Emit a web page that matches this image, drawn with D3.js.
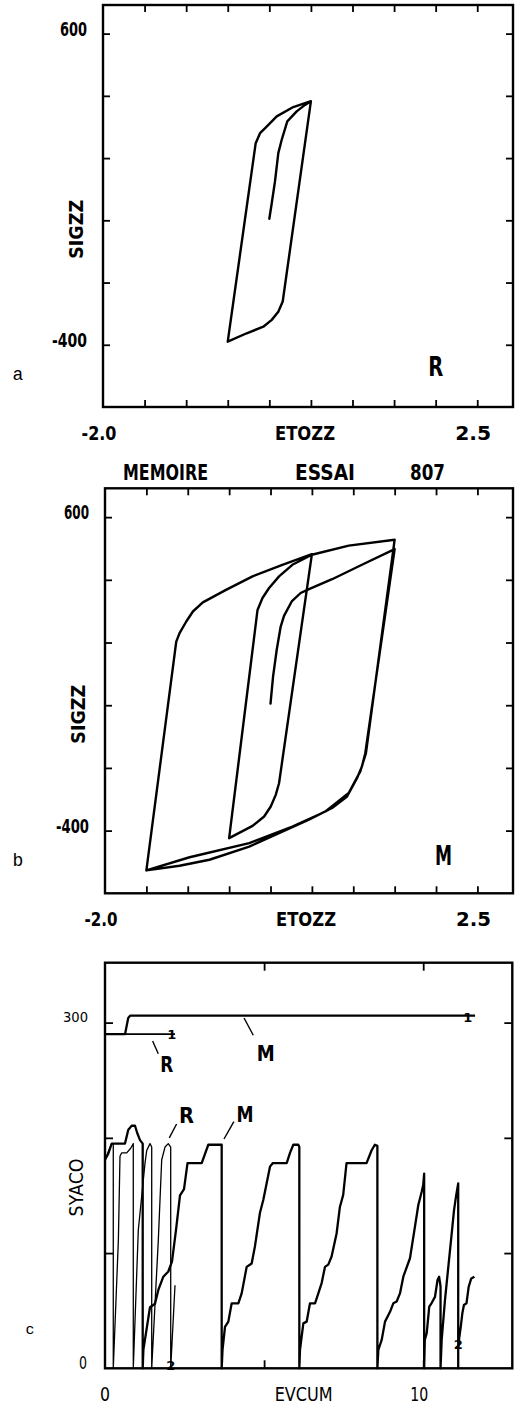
<!DOCTYPE html>
<html>
<head>
<meta charset="utf-8">
<script src="https://cdn.jsdelivr.net/npm/d3@7"></script>
<style>
  html, body { margin: 0; padding: 0; background: #fff; }
  svg { display: block; }
</style>
</head>
<body>
<svg id="chart" width="515" height="1405"></svg>
<script>
// ---------- axis definitions ----------
const etoDomain = [-2.0, 2.93];
const sigDomain = [-600, 692];
const etoTicks = [-1.5, -1.0, -0.5, 0, 0.5, 1.0, 1.5, 2.0, 2.5];
const sigTicks = [-400, -200, 0, 200, 400, 600];
const etoLabels = ["-2.0", "2.5"];
const sigLabels = ["600", "-400"];

const evDomain = [0, 12.8];
const syDomain = [0, 352];
const evTicks = [5, 10];
const syTicks = [100, 200, 300];
const evLabels = ["0", "10"];
const syLabels = ["300", "0"];

// ---------- panel a : model R, SIGZZ vs ETOZZ ----------
const loopR = [
  [0, 5], [0.029, 55], [0.068, 125], [0.108, 216], [0.149, 259], [0.216, 318],
  [0.329, 350], [0.429, 371], [0.5, 383],
  [0.161, -261], [0.108, -294], [0.029, -320], [-0.072, -342], [-0.272, -363], [-0.5, -390],
  [-0.164, 248], [-0.112, 280], [-0.044, 298], [0.089, 334], [0.288, 364], [0.5, 383]
];

// ---------- panel b : model M, SIGZZ vs ETOZZ ----------
const loopM = [
  [0, 5], [0.031, 92], [0.075, 177], [0.123, 251], [0.163, 285], [0.256, 331],
  [0.364, 358], [0.444, 368], [0.744, 402], [1.105, 448], [1.5, 498],
  [1.145, -153], [1.105, -195], [1.045, -233], [0.925, -291], [0.744, -328],
  [0.464, -365], [0.143, -403], [-0.257, -451], [-0.738, -493], [-1.099, -512], [-1.5, -527],
  [-1.139, 203], [-1.099, 230], [-1.018, 267], [-0.938, 299], [-0.818, 328],
  [-0.538, 368], [-0.217, 411], [0.143, 448], [0.5, 482],
  [0.103, -249], [0.063, -286], [0.003, -323], [-0.077, -355], [-0.217, -385], [-0.5, -424],
  [-0.157, 304], [-0.097, 342], [-0.017, 374], [0.103, 411], [0.264, 448], [0.5, 480],
  [0.945, 509], [1.5, 528],
  [1.153, -153], [1.085, -211], [0.945, -280], [0.664, -339], [0.264, -387],
  [-0.257, -440], [-0.978, -485], [-1.5, -527]
];

// ---------- panel c : SYACO vs EVCUM ----------
const topR = [[0, 290], [2.2, 290]];
const topM = [[0, 290], [0.63, 290], [0.73, 304], [0.79, 306], [11.63, 306]];

const sawR = [
  [0, 181], [0.21, 195], [0.26, 195], [0.26, 0],
  [0.42, 111], [0.471, 184], [0.525, 187], [0.682, 187], [0.808, 191], [0.889, 195], [0.889, 0],
  [1.047, 120], [1.257, 178], [1.311, 189], [1.414, 195], [1.468, 192], [1.468, 0],
  [1.675, 111], [1.782, 181], [1.886, 192], [1.989, 195], [2.065, 192], [2.065, 0],
  [2.2, 72]
];

const sawM = [
  [0, 181], [0.1, 186], [0.21, 195], [0.628, 195], [0.732, 207], [0.839, 210.5],
  [0.943, 210.5], [1.015, 204], [1.1, 198], [1.185, 195], [1.185, 0],
  [1.206, 16], [1.414, 53], [1.571, 56], [1.676, 68], [1.833, 79.5], [1.99, 84],
  [2.105, 92.5], [2.231, 120], [2.357, 150], [2.483, 155.5], [2.593, 178], [3.039, 178],
  [3.246, 194], [3.667, 194], [3.667, 0],
  [3.693, 16], [3.771, 36], [3.876, 40.5], [3.981, 56.4], [4.19, 56.4], [4.295, 65],
  [4.452, 88], [4.609, 91], [4.713, 106], [4.87, 135], [4.974, 146], [5.185, 175],
  [5.27, 178], [5.71, 178], [5.814, 187], [5.918, 194], [6.075, 194], [6.107, 192], [6.107, 0],
  [6.128, 16], [6.233, 39], [6.338, 40.5], [6.442, 56.4], [6.6, 56.4], [6.704, 65],
  [6.809, 74], [6.913, 88], [7.017, 90], [7.121, 97], [7.278, 117], [7.382, 140],
  [7.486, 150.5], [7.59, 178], [8.219, 178], [8.376, 189], [8.48, 194], [8.56, 193], [8.56, 0],
  [8.59, 16], [8.695, 24.6], [8.8, 40.5], [8.957, 49], [9.061, 56.4], [9.166, 58],
  [9.27, 65], [9.375, 79.5], [9.584, 95.5], [9.741, 123], [9.846, 141.7], [9.951, 153],
  [10.0, 159], [10.03, 169], [10.03, 0],
  [10.05, 24.6], [10.11, 30.4], [10.19, 53.5], [10.26, 56.4], [10.37, 62], [10.45, 76.6],
  [10.5, 79.5], [10.545, 71], [10.545, 0],
  [10.58, 24.6], [10.685, 59.3], [10.789, 88], [10.896, 117], [10.968, 137], [11.03, 149],
  [11.1, 160.5], [11.1, 0],
  [11.1, 16], [11.13, 26], [11.18, 36], [11.23, 47.7], [11.28, 55], [11.36, 56.4],
  [11.43, 70.8], [11.51, 78], [11.61, 79.5]
];

// curve identifiers written on the curves
const curveMarks = [
  { t: "1", x: 2.1, y: 290 }, { t: "1", x: 11.4, y: 305 },
  { t: "2", x: 2.07, y: 3 }, { t: "2", x: 11.1, y: 21 }
];

// leader-line annotations (data units)
const notesC = [
  { t: "R", x: 1.94, y: 257, w: 13, lx: [1.496, 1.675], ly: [284, 273] },
  { t: "M", x: 5.05, y: 267, w: 18, lx: [4.37, 4.66], ly: [304, 289] },
  { t: "R", x: 2.56, y: 213, w: 15, lx: [2.25, 2.02], ly: [212, 200] },
  { t: "M", x: 4.40, y: 214, w: 17, lx: [4.05, 3.74], ly: [214, 199] }
];

// ---------- drawing ----------
const svg = d3.select("#chart");
const SANS = '"DejaVu Sans","Liberation Sans",sans-serif';
const MONO = '"Liberation Mono","DejaVu Sans Mono",monospace';

function drawFrame(g, x, y, xt, yt, tick) {
  const [x0, x1] = x.range();
  const [yb, yt0] = y.range();
  const ax = [
    [d3.axisBottom(x), `translate(0,${yb})`, xt],
    [d3.axisTop(x), `translate(0,${yt0})`, xt],
    [d3.axisLeft(y), `translate(${x0},0)`, yt],
    [d3.axisRight(y), `translate(${x1},0)`, yt]
  ];
  ax.forEach(([a, tr, vals]) => {
    const gg = g.append("g").attr("transform", tr)
      .call(a.tickValues(vals).tickSize(-tick).tickFormat(""));
    gg.select(".domain").remove();
    gg.selectAll(".tick line").attr("stroke", "#000").attr("stroke-width", 1.8);
  });
  g.append("rect")
    .attr("x", x0).attr("y", yt0)
    .attr("width", x1 - x0).attr("height", yb - yt0)
    .attr("fill", "none").attr("stroke", "#000").attr("stroke-width", 2.4);
}

// text with a fixed drawn width, squeezing the glyphs like a plotter font
function text(g, s, x, y, opt) {
  const t = g.append("text").text(s)
    .attr("x", x).attr("y", y)
    .attr("font-family", opt.family || SANS)
    .attr("font-size", opt.size || 20)
    .attr("font-weight", opt.weight || "bold")
    .attr("text-anchor", opt.anchor || "middle")
    .attr("fill", "#000");
  if (opt.w) t.attr("textLength", opt.w).attr("lengthAdjust", "spacingAndGlyphs");
  if (opt.rotate) t.attr("transform", `rotate(-90,${x},${y})`);
  return t;
}

function loopPanel(left, top, right, bottom, data, tag, panelLetter, widths, title) {
  const g = svg.append("g");
  const x = d3.scaleLinear().domain(etoDomain).range([left, right]);
  const y = d3.scaleLinear().domain(sigDomain).range([bottom, top]);

  const line = d3.line().x(d => x(d[0])).y(d => y(d[1])).curve(d3.curveLinear);
  g.append("path").datum(data).attr("d", line)
    .attr("fill", "none").attr("stroke", "#000")
    .attr("stroke-width", 2.4).attr("stroke-linejoin", "round").attr("stroke-linecap", "round");

  drawFrame(g, x, y, etoTicks, sigTicks, 7);

  text(g, sigLabels[0], left - 16, y(600) + 2, { anchor: "end", w: widths[0] });
  text(g, sigLabels[1], left - 16, y(-400) + 2, { anchor: "end", w: widths[1] });
  text(g, etoLabels[0], x(-2.0) - 4, bottom + 33, { w: widths[2] });
  text(g, etoLabels[1], x(2.5) - 4, bottom + 33, { w: widths[3] });
  text(g, "ETOZZ", (left + right) / 2 - 3, bottom + 33, { w: 60 });
  text(g, "SIGZZ", left - 20, y(0) + 9, { rotate: true, w: 59 });

  text(g, tag.t, x(tag.x), y(tag.y), { size: 27, w: tag.w });
  text(g, panelLetter, 18, y(-510) + 1, { family: MONO, weight: "normal", size: 18 });

  if (title) {
    title.forEach(tt => text(g, tt.t, left + tt.dx, top - 8, { anchor: "start", size: 21, w: tt.w }));
  }
}

loopPanel(103, 5, 513, 407, loopR, { t: "R", x: 2.0, y: -500, w: 15 }, "a", [27, 35, 35, 36], null);
loopPanel(105, 488.3, 513, 893.3, loopM, { t: "M", x: 2.09, y: -510, w: 17 }, "b", [25, 33, 33, 35],
  [{ t: "MEMOIRE", dx: 18, w: 85 }, { t: "ESSAI", dx: 190, w: 60 }, { t: "807", dx: 305, w: 35 }]);

// panel c
(function () {
  const left = 105, top = 962.7, right = 512.3, bottom = 1368.3;
  const g = svg.append("g");
  const x = d3.scaleLinear().domain(evDomain).range([left, right]);
  const y = d3.scaleLinear().domain(syDomain).range([bottom, top]);
  const line = d3.line().x(d => x(d[0])).y(d => y(d[1]));

  const series = [
    [topR, 1.6], [sawR, 1.3], [topM, 2.3], [sawM, 2.3]
  ];
  series.forEach(([d, w]) => {
    g.append("path").datum(d).attr("d", line)
      .attr("fill", "none").attr("stroke", "#000")
      .attr("stroke-width", w).attr("stroke-linejoin", "round");
  });

  drawFrame(g, x, y, evTicks, syTicks, 8);

  curveMarks.forEach(m => {
    text(g, m.t, x(m.x), y(m.y) + 5, { size: 13, weight: "bold" });
  });

  notesC.forEach(n => {
    g.append("line")
      .attr("x1", x(n.lx[0])).attr("y1", y(n.ly[0]))
      .attr("x2", x(n.lx[1])).attr("y2", y(n.ly[1]))
      .attr("stroke", "#000").attr("stroke-width", 1.4);
    text(g, n.t, x(n.x), y(n.y), { size: 22, w: n.w });
  });

  const plain = { family: SANS, weight: "normal" };
  text(g, syLabels[0], left - 17, y(300) - 1, { ...plain, anchor: "end", size: 14, w: 25 });
  text(g, syLabels[1], left - 18, y(0) + 1, { ...plain, anchor: "end", size: 17, w: 8 });
  text(g, evLabels[0], x(0), bottom + 33, { ...plain, size: 19, w: 10 });
  text(g, evLabels[1], x(10) - 4, bottom + 33, { ...plain, size: 19, w: 18 });
  text(g, "EVCUM", (left + right) / 2 - 5, bottom + 33, { ...plain, size: 20, w: 58 });
  text(g, "SYACO", left - 22, y(157), { ...plain, rotate: true, size: 20, w: 58 });
  text(g, "c", 30, y(30), { family: MONO, weight: "normal", size: 15 });
})();
</script>
</body>
</html>
